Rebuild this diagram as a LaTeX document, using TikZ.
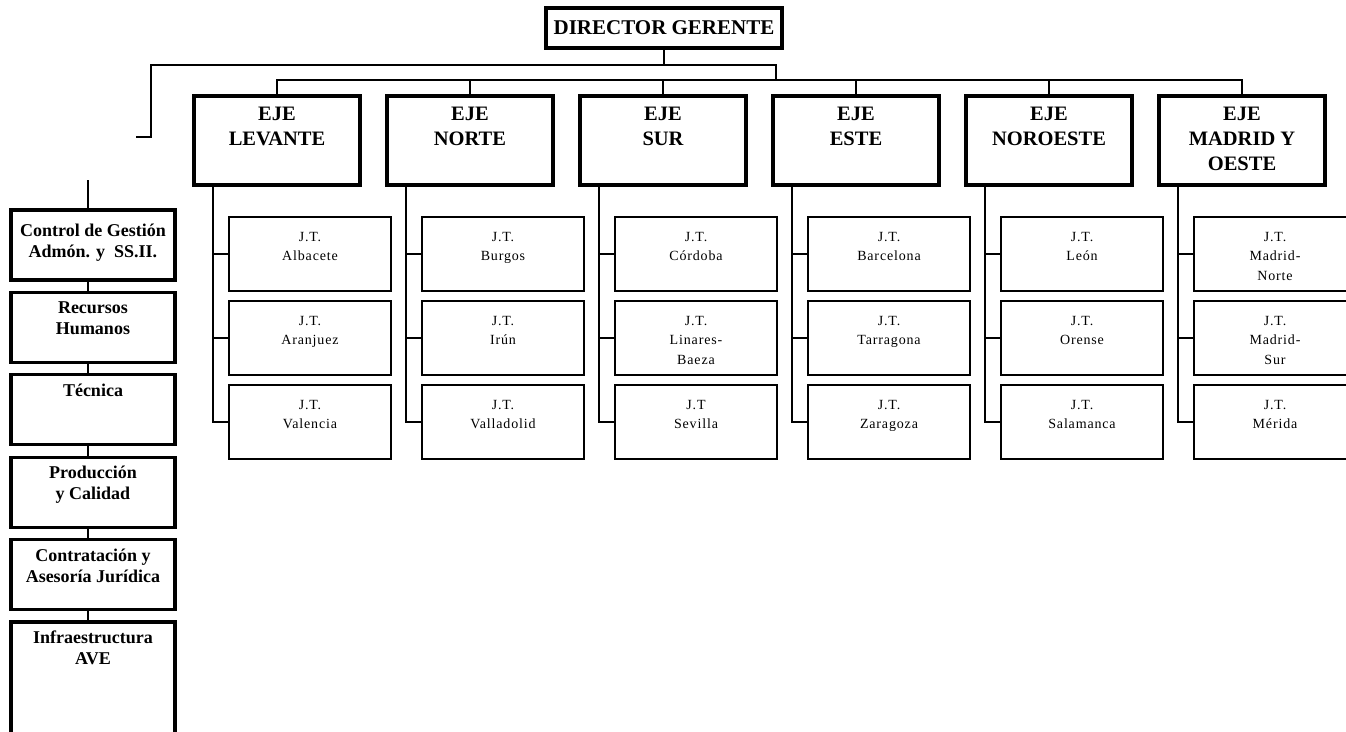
\documentclass[tikz,border=0pt]{standalone}
\usepackage{fontspec}
\setmainfont{Liberation Serif}
\usetikzlibrary{positioning}

\begin{document}
\begin{tikzpicture}[x=1pt,y=-1pt,
	thinline/.style={line width=1.3pt},
	dirbox/.style={draw,line width=3.2pt,minimum width=236pt,minimum height=40pt,inner sep=0pt,outer sep=0pt,font=\fontsize{21}{24}\selectfont\bfseries},
	ejebox/.style={draw,line width=3.2pt,minimum width=166pt,minimum height=89pt,inner sep=0pt,outer sep=0pt},
	jtbox/.style={draw,line width=1.6pt,minimum width=162pt,minimum height=74pt,inner sep=0pt,outer sep=0pt},
	staffbox/.style={draw,line width=3.2pt,minimum width=164pt,minimum height=70pt,inner sep=0pt,outer sep=0pt},
	ejetext/.style={align=center,inner sep=0pt,font=\fontsize{20.5}{25}\selectfont\bfseries},
	jttext/.style={align=center,inner sep=0pt,font=\fontsize{14}{19.5}\selectfont\addfontfeature{LetterSpace=6}},
	stafftext/.style={align=center,inner sep=0pt,font=\fontsize{18}{21}\selectfont\bfseries}]
	\useasboundingbox (0,0) rectangle (1346,731);
	\clip (0,0) rectangle (1346,731);

	% director
	\node[dirbox] (dir) at (664,28) {DIRECTOR GERENTE};

	% ejes
	\node[ejebox]					(lev)	at (277,140.5)	{};
	\node[ejebox,right=27pt of lev]	(nor)	{};
	\node[ejebox,right=27pt of nor]	(sur)	{};
	\node[ejebox,right=27pt of sur]	(est)	{};
	\node[ejebox,right=27pt of est]	(noe)	{};
	\node[ejebox,right=27pt of noe]	(mad)	{};

	\node[ejetext,below=11pt of lev.north]	(levt)	{EJE\\LEVANTE};
	\node[ejetext,below=11pt of nor.north]	(nort)	{EJE\\NORTE};
	\node[ejetext,below=11pt of sur.north]	(surt)	{EJE\\SUR};
	\node[ejetext,below=11pt of est.north]	(estt)	{EJE\\ESTE};
	\node[ejetext,below=11pt of noe.north]	(noet)	{EJE\\NOROESTE};
	\node[ejetext,below=11pt of mad.north]	(madt)	{EJE\\MADRID Y\\OESTE};

	% jefaturas
	\foreach \e in {lev,nor,sur,est,noe,mad}{
		\node[jtbox,anchor=north west]	(\e1)	at ([xshift=35pt,yshift=-32pt]\e.south west)	{};
		\node[jtbox,below=10pt of \e1]	(\e2)	{};
		\node[jtbox,below=10pt of \e2]	(\e3)	{};
	}

	\node[jttext,below=15pt of lev1.north]	(lev1t)	{J.T.\\Albacete};
	\node[jttext,below=15pt of lev2.north]	(lev2t)	{J.T.\\Aranjuez};
	\node[jttext,below=15pt of lev3.north]	(lev3t)	{J.T.\\Valencia};
	\node[jttext,below=15pt of nor1.north]	(nor1t)	{J.T.\\Burgos};
	\node[jttext,below=15pt of nor2.north]	(nor2t)	{J.T.\\Irún};
	\node[jttext,below=15pt of nor3.north]	(nor3t)	{J.T.\\Valladolid};
	\node[jttext,below=15pt of sur1.north]	(sur1t)	{J.T.\\Córdoba};
	\node[jttext,below=15pt of sur2.north]	(sur2t)	{J.T.\\Linares-\\Baeza};
	\node[jttext,below=15pt of sur3.north]	(sur3t)	{J.T\\Sevilla};
	\node[jttext,below=15pt of est1.north]	(est1t)	{J.T.\\Barcelona};
	\node[jttext,below=15pt of est2.north]	(est2t)	{J.T.\\Tarragona};
	\node[jttext,below=15pt of est3.north]	(est3t)	{J.T.\\Zaragoza};
	\node[jttext,below=15pt of noe1.north]	(noe1t)	{J.T.\\León};
	\node[jttext,below=15pt of noe2.north]	(noe2t)	{J.T.\\Orense};
	\node[jttext,below=15pt of noe3.north]	(noe3t)	{J.T.\\Salamanca};
	\node[jttext,below=15pt of mad1.north]	(mad1t)	{J.T.\\Madrid-\\Norte};
	\node[jttext,below=15pt of mad2.north]	(mad2t)	{J.T.\\Madrid-\\Sur};
	\node[jttext,below=15pt of mad3.north]	(mad3t)	{J.T.\\Mérida};

	% staff
	\node[staffbox]						(ctl)	at (93,245)	{};
	\node[staffbox,below=12.4pt of ctl]	(rrh)	{};
	\node[staffbox,below=12.4pt of rrh]	(tec)	{};
	\node[staffbox,below=12.4pt of tec]	(prd)	{};
	\node[staffbox,below=12.4pt of prd]	(ctr)	{};
	\node[staffbox,minimum height=130pt,below=12.4pt of ctr]	(inf)	{};

	\node[stafftext,below=14pt of ctl.north]	(ctlt)	{Control de Gestión\\Admón. y\ \ SS.II.};
	\node[stafftext,below=9pt of rrh.north]	(rrht)	{Recursos\\Humanos};
	\node[stafftext,below=9pt of tec.north]	(tect)	{Técnica};
	\node[stafftext,below=9pt of prd.north]	(prdt)	{Producción\\y Calidad};
	\node[stafftext,below=9pt of ctr.north]	(ctrt)	{Contratación y\\Asesoría Jurídica};
	\node[stafftext,below=9pt of inf.north]	(inft)	{Infraestructura\\AVE};

	% connectors
	\coordinate (bar)	at ([yshift=16pt]lev.north);
	\coordinate (topl)	at (151,65);
	\coordinate (topr)	at (776,65);
	\coordinate (stf)	at (136,137);
	\coordinate (stfv)	at (88,180);

	\draw[thinline] (dir.south) -- (dir.south |- topl);
	\draw[thinline] (stf) -| (topl) -- (topr) -- (topr |- bar);
	\draw[thinline] (lev.north) -- (bar) -- (bar -| mad.north) -- (mad.north);
	\foreach \e in {nor,sur,est,noe}
		\draw[thinline] (\e.north) -- (\e.north |- bar);

	\foreach \e in {lev,nor,sur,est,noe,mad}{
		\draw[thinline] ([xshift=19pt]\e.south west) -- ([xshift=-16pt]\e3.west) -- (\e3.west);
		\draw[thinline] ([xshift=-16pt]\e1.west) -- (\e1.west);
		\draw[thinline] ([xshift=-16pt]\e2.west) -- (\e2.west);
	}

	\draw[thinline] (stfv) -- ([xshift=-5pt]ctl.north);
	\foreach \a/\b in {ctl/rrh,rrh/tec,tec/prd,prd/ctr,ctr/inf}
		\draw[thinline] ([xshift=-5pt]\a.south) -- ([xshift=-5pt]\b.north);
\end{tikzpicture}
\end{document}
